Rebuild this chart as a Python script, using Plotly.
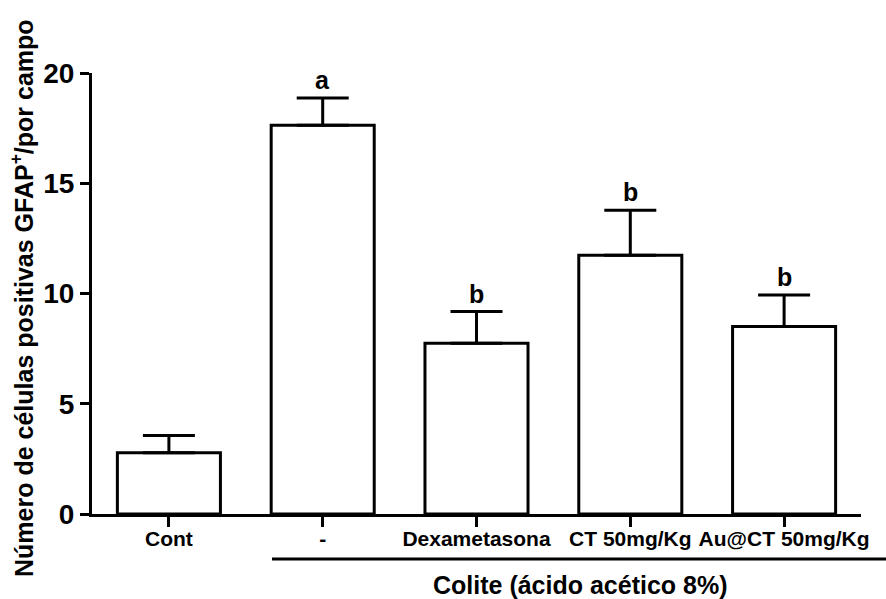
import plotly.graph_objects as go

categories = ["Cont", "-", "Dexametasona", "CT 50mg/Kg", "Au@CT 50mg/Kg"]
means = [2.78, 17.63, 7.74, 11.73, 8.50]
errors = [0.78, 1.24, 1.44, 2.04, 1.43]
letters = ["", "a", "b", "b", "b"]
y_ticks = [0, 5, 10, 15, 20]

W, H = 886, 599
ml, mr, mt, mb = 92, 25, 73, 85
pw = W - ml - mr
ph = H - mt - mb

FONT = "Liberation Sans, Arial, Helvetica, sans-serif"

def px_to_paper_x(px):
    return (px - ml) / pw

def px_to_paper_y(py):
    return (H - mb - py) / ph

fig = go.Figure()
fig.add_trace(go.Bar(
    x=list(range(len(categories))),
    y=means,
    width=0.67,
    marker=dict(color="white", line=dict(color="black", width=3)),
    error_y=dict(type="data", array=errors, arrayminus=[0] * len(errors),
                 symmetric=False, color="black", thickness=3, width=26),
    showlegend=False,
))

for i, (lab, m, e) in enumerate(zip(letters, means, errors)):
    if lab:
        fig.add_annotation(x=i, y=m + e, text=f"<b>{lab}</b>", showarrow=False,
                           yanchor="bottom", yshift=2,
                           font=dict(family=FONT, size=25, color="black"))

fig.add_annotation(xref="paper", yref="paper", x=px_to_paper_x(22), y=px_to_paper_y(298),
                   text="<b>Número de células positivas GFAP<sup>+</sup>/por campo</b>",
                   textangle=-90, showarrow=False, xanchor="center", yanchor="middle",
                   font=dict(family=FONT, size=25, color="black"))

fig.add_annotation(xref="paper", yref="paper", x=px_to_paper_x(580), y=px_to_paper_y(585),
                   text="<b>Colite (ácido acético 8%)</b>", showarrow=False,
                   xanchor="center", yanchor="middle",
                   font=dict(family=FONT, size=25, color="black"))

fig.add_shape(type="line", xref="paper", yref="paper",
              x0=px_to_paper_x(272), x1=px_to_paper_x(886),
              y0=px_to_paper_y(559), y1=px_to_paper_y(559),
              line=dict(color="black", width=3))

fig.update_layout(
    width=W, height=H,
    margin=dict(l=ml, r=mr, t=mt, b=mb),
    plot_bgcolor="white", paper_bgcolor="white",
    font=dict(family=FONT, color="black"),
    xaxis=dict(
        range=[-0.5, len(categories) - 0.5],
        tickmode="array", tickvals=list(range(len(categories))),
        ticktext=[f"<b>{c}</b>" for c in categories],
        showline=True, linecolor="black", linewidth=3,
        ticks="outside", ticklen=10, tickwidth=3, tickcolor="black",
        ticklabelstandoff=-6,
        tickfont=dict(family=FONT, size=21, color="black"),
        showgrid=False, zeroline=False,
    ),
    yaxis=dict(
        range=[0, 20],
        tickmode="array", tickvals=y_ticks,
        ticktext=[f"<b>{t}</b>" for t in y_ticks],
        showline=True, linecolor="black", linewidth=3,
        ticks="outside", ticklen=9, tickwidth=3, tickcolor="black",
        tickfont=dict(family=FONT, size=28, color="black"),
        showgrid=False, zeroline=False,
    ),
)

fig.write_html("out.html", config={"displayModeBar": False},
               post_script="document.body.style.margin='0';document.body.style.padding='0';")
